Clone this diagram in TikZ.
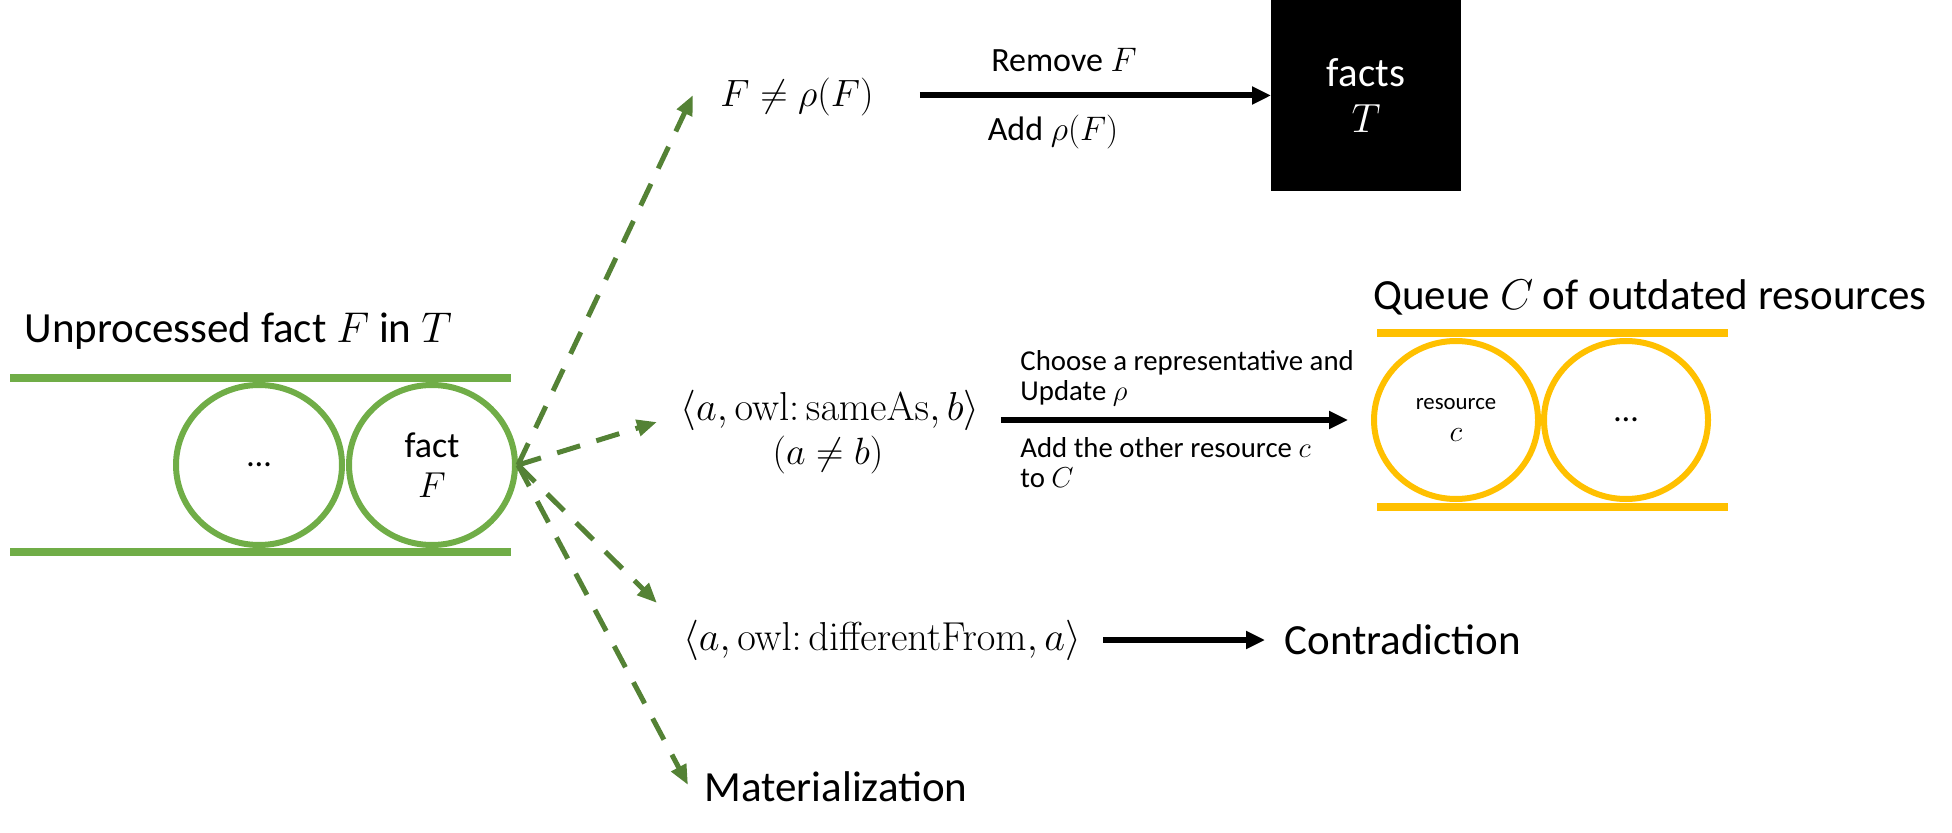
\RequirePackage{fix-cm}
\documentclass[tikz,border=0pt]{standalone}
\usepackage[no-math]{fontspec}
\setmainfont{Carlito}
\usetikzlibrary{arrows.meta,shapes.geometric}
\definecolor{tubegreen}{HTML}{70AD47}
\definecolor{arrowgreen}{HTML}{548235}
\definecolor{queuegold}{HTML}{FFC000}
\tikzset{
  txt/.style={inner sep=0pt, align=center},
  bigtxt/.style={txt, font=\fontsize{21.5}{26}\selectfont},
  mathtxt/.style={txt, font=\fontsize{19}{22.5}\selectfont},
  widemath/.style={txt, font=\fontsize{20.2}{23}\selectfont},
  greenball/.style={ellipse, draw=tubegreen, line width=3pt, minimum width=83pt, minimum height=80pt, inner sep=0pt},
  goldball/.style={ellipse, draw=queuegold, line width=3pt, minimum width=82pt, minimum height=79pt, inner sep=0pt},
  greentube/.style={draw=tubegreen, line width=4pt},
  goldtube/.style={draw=queuegold, line width=4pt},
  flow/.style={draw=arrowgreen, line width=2.5pt, dash pattern=on 12pt off 8.5pt, -{Triangle[length=10pt,width=8pt]}},
  solidarrow/.style={draw=black, line width=3pt, -{Triangle[length=9.5pt,width=8.5pt]}},
}
\begin{document}
\begin{tikzpicture}[x=0.5pt,y=-0.5pt]
\useasboundingbox (0,0) rectangle (1952,833);

% ---- left queue (green) ----
\node[bigtxt, anchor=base west] (title) at (24,343) {Unprocessed fact $F$ in $T$};
\coordinate (gtl) at (10,378); \coordinate (gtr) at (511,378);
\coordinate (gbl) at (10,552); \coordinate (gbr) at (511,552);
\draw[greentube] (gtl) -- (gtr);
\draw[greentube] (gbl) -- (gbr);
\node[greenball, font=\fontsize{17}{20}\selectfont] (dots1) at (259,465) {\ldots};
\node[greenball, align=center, font=\fontsize{18}{20}\selectfont] (fact) at (432,465) {fact\\$F$};

% ---- targets ----
\node[mathtxt] (neq) at (797,97) {$F\neq\rho(F)$};
\node[widemath] (same) at (830,410) {$\langle a, \mathrm{owl}\mathpunct{:}\mathrm{sameAs}, b\rangle$};
\node[mathtxt] (sameneq) at (828,455) {$(a\neq b)$};
\node[widemath] (diff) at (882,640) {$\langle a, \mathrm{owl}\mathpunct{:}\mathrm{differentFrom}, a\rangle$};
\node[bigtxt, anchor=west] (mat) at (704,787) {Materialization};
\node[bigtxt, anchor=west] (contra) at (1284,640) {Contradiction};

% ---- facts box ----
\node[rectangle, fill=black, text=white, minimum width=95pt, minimum height=95.5pt, inner sep=0pt, outer sep=0pt, align=center, font=\fontsize{20.4}{23}\selectfont] (facts) at (1366,95.5) {facts\\$T$};
\node[txt, font=\fontsize{17}{20}\selectfont] (remove) at (1064,60) {Remove $F$};
\node[txt, font=\fontsize{17}{20}\selectfont] (addrho) at (1053,132) {Add $\rho(F)$};

% ---- right queue (gold) ----
\node[bigtxt, anchor=west] (qtitle) at (1373,297) {Queue $C$ of outdated resources};
\coordinate (ytl) at (1377,333); \coordinate (ytr) at (1728,333);
\coordinate (ybl) at (1377,507); \coordinate (ybr) at (1728,507);
\draw[goldtube] (ytl) -- (ytr);
\draw[goldtube] (ybl) -- (ybr);
\node[goldball, align=center] (res) at (1456,420) {{\fontsize{11.4}{13}\selectfont resource}\\[4pt]{\fontsize{15}{16}\selectfont $c$}};
\node[goldball, font=\fontsize{17}{20}\selectfont] (dots2) at (1626,420) {\ldots};

\node[txt, align=left, anchor=west, font=\fontsize{14.4}{15}\selectfont] (choose) at (1020,378) {Choose a representative and\\Update $\rho$};
\node[txt, align=left, anchor=west, font=\fontsize{14.4}{15}\selectfont] (addc) at (1020,463) {Add the other resource $c$\\to $C$};

% ---- connectors ----
\coordinate (e1) at (693,95);
\coordinate (e2) at (657,422);
\coordinate (e3) at (657,603);
\coordinate (e4) at (688,785);
\draw[flow] (fact.east) -- (e1);
\draw[flow] (fact.east) -- (e2);
\draw[flow] (fact.east) -- (e3);
\draw[flow] (fact.east) -- (e4);

\draw[solidarrow, shorten <=23pt] (neq.east |- facts.west) -- (facts.west);
\draw[solidarrow, shorten <=10.5pt, shorten >=11.5pt] (same.east |- res.west) -- (res.west);
\draw[solidarrow, shorten <=11pt, shorten >=9.5pt] (diff.east) -- (contra.west);
\end{tikzpicture}
\end{document}
